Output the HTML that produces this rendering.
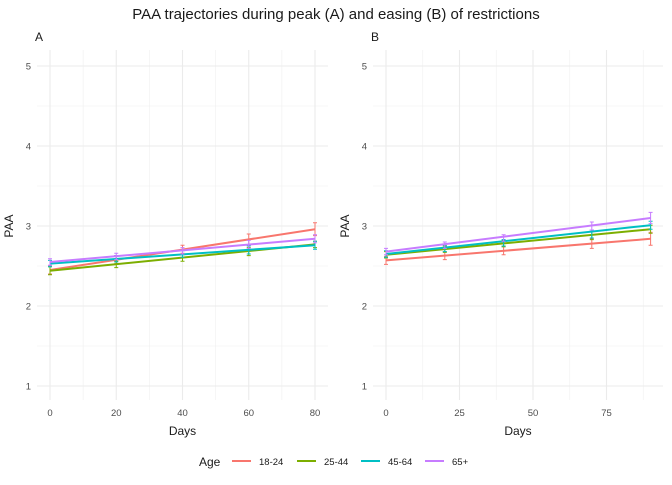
<!DOCTYPE html>
<html><head><meta charset="utf-8"><style>
body{margin:0;background:#fff;font-family:"Liberation Sans",sans-serif}
svg text{font-family:"Liberation Sans",sans-serif}
</style></head><body>
<svg id="c" width="672" height="480">
<text x="336" y="19" text-anchor="middle" font-size="15" fill="#1a1a1a">PAA trajectories during peak (A) and easing (B) of restrictions</text>
</svg>
<script>
const ages=["18-24","25-44","45-64","65+"];
const colors=["#F8766D","#7CAE00","#00BFC4","#C77CFF"];
const daysA=[0,20,40,60,80];
const daysB=[0,20,40,70,90];
const meanA=[[2.45,2.58,2.71,2.83,2.96],[2.44,2.52,2.60,2.68,2.77],[2.53,2.59,2.65,2.70,2.76],[2.55,2.62,2.69,2.77,2.84]];
const seA=[[0.05,0.05,0.05,0.07,0.08],[0.05,0.04,0.04,0.05,0.04],[0.04,0.04,0.04,0.05,0.05],[0.04,0.04,0.04,0.05,0.05]];
const meanB=[[2.57,2.63,2.69,2.78,2.84],[2.64,2.71,2.78,2.88,2.96],[2.65,2.72,2.79,2.90,3.01],[2.68,2.76,2.85,3.00,3.10]];
const seB=[[0.05,0.05,0.05,0.06,0.08],[0.04,0.04,0.04,0.05,0.05],[0.04,0.04,0.04,0.05,0.05],[0.04,0.04,0.04,0.05,0.07]];
const yTicks=[1,2,3,4,5];
const xTicksA=[0,20,40,60,80];
const xTicksB=[0,25,50,75];
const NS="http://www.w3.org/2000/svg";
const svg=document.getElementById('c');
function mk(t,a,p){const e=document.createElementNS(NS,t);for(const k in a)e.setAttribute(k,a[k]);(p||svg).appendChild(e);return e;}
const yS=v=>386-(v-1)*80;
function panel(label,left,right,x0px,pxPer,xmin,xmax,xt,minor,days,mean,se){
  const g=mk('g',{});
  
  
  const xS=v=>x0px+v*pxPer;
  for(let v=1.5;v<5;v++){mk('line',{x1:left,x2:right,y1:yS(v),y2:yS(v),stroke:'#f0f0f0','stroke-width':0.6},g);}
  minor.forEach(v=>mk('line',{x1:xS(v),x2:xS(v),y1:50,y2:400,stroke:'#f0f0f0','stroke-width':0.6},g));
  yTicks.forEach(v=>{mk('line',{x1:left,x2:right,y1:yS(v),y2:yS(v),stroke:'#ebebeb','stroke-width':1.1},g);
    const t=mk('text',{x:left-6,y:yS(v)+3.5,'text-anchor':'end','font-size':9.5,fill:'#4d4d4d'},g);t.textContent=v;
    });
  xt.forEach(v=>{mk('line',{x1:xS(v),x2:xS(v),y1:50,y2:400,stroke:'#ebebeb','stroke-width':1.1},g);
    const t=mk('text',{x:xS(v),y:416,'text-anchor':'middle','font-size':9.5,fill:'#4d4d4d'},g);t.textContent=v;
    });
  const tl=mk('text',{x:left-2,y:41,'font-size':12,fill:'#1a1a1a'},g);tl.textContent=label;
  
  const xl=mk('text',{x:(left+right)/2,y:435,'text-anchor':'middle','font-size':12,fill:'#1a1a1a'},g);xl.textContent='Days';
  
  const yl=mk('text',{x:0,y:0,'text-anchor':'middle','font-size':12,fill:'#1a1a1a',transform:`translate(${left-24},226) rotate(-90)`},g);yl.textContent='PAA';
  
  mean.forEach((m,i)=>{
    const n=days.length-1;
    const l=mk('line',{x1:xS(days[0]),x2:xS(days[n]),y1:yS(m[0]),y2:yS(m[n]),stroke:colors[i],'stroke-width':2},g);
    
    days.forEach((d,j)=>{
      const x=xS(d),lo=yS(m[j]-se[i][j]),hi=yS(m[j]+se[i][j]);
      const e=mk('path',{d:`M${x-2},${lo}H${x+2}M${x},${lo}V${hi}M${x-2},${hi}H${x+2}`,stroke:colors[i],'stroke-width':1,fill:'none'},g);
      
    });
  });
}
panel('A',37,328,50,265/80,0,80,xTicksA,[10,30,50,70],daysA,meanA,seA);
panel('B',373,663,386,2.94,0,90,xTicksB,[12.5,37.5,62.5,87.5],daysB,meanB,seB);
const lg=mk('g',{});


const lt=mk('text',{x:199,y:466,'font-size':12,fill:'#1a1a1a'},lg);lt.textContent='Age';
const kx=[232,297,361,425];
ages.forEach((a,i)=>{
  const e=mk('g',{},lg);
  
  
  mk('line',{x1:kx[i],x2:kx[i]+19,y1:461,y2:461,stroke:colors[i],'stroke-width':2},e);
  const t=mk('text',{x:kx[i]+27,y:465,'font-size':9.5,fill:'#1a1a1a'},e);t.textContent=a;
});
</script>
</body></html>
